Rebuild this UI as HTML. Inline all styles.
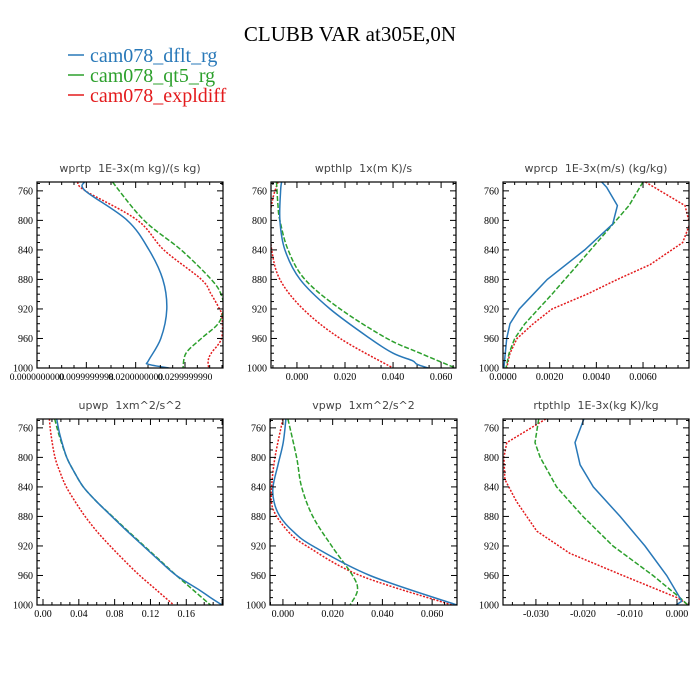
<!DOCTYPE html>
<html><head><meta charset="utf-8"><style>
body{margin:0;background:#fff;}
svg{display:block;}
</style></head><body>
<svg id="chart" width="700" height="700" viewBox="0 0 700 700" xmlns="http://www.w3.org/2000/svg">
<rect width="700" height="700" fill="#fff"/>
<text x="350" y="41" text-anchor="middle" font-family="Liberation Serif, serif" font-size="21">CLUBB VAR at305E,0N</text>
<g font-family="Liberation Serif, serif" font-size="20">
<g><line x1="68" y1="55" x2="84" y2="55" stroke="#2878b8" stroke-width="1.5"/><text x="90" y="62" fill="#2878b8">cam078_dflt_rg</text></g>
<g><line x1="68" y1="75" x2="84" y2="75" stroke="#2ca02c" stroke-width="1.5"/><text x="90" y="82" fill="#2ca02c">cam078_qt5_rg</text></g>
<g><line x1="68" y1="95" x2="84" y2="95" stroke="#e31a1c" stroke-width="1.5"/><text x="90" y="102" fill="#e31a1c">cam078_expldiff</text></g>
</g>
<g id="panels"></g>
</svg>
<script>
const yTicks=[760,800,840,880,920,960,1000];
// panel 1 wprtp
const p1_blue_p=[748,760,800,840,880,920,960,990,995,1000];
const p1_blue=[0.0096,0.0098,0.0183,0.0227,0.0255,0.0263,0.0251,0.0226,0.0226,0.0268];
const p1_green_p=[748,800,840,880,900,920,940,960,980,1000];
const p1_green=[0.0153,0.0217,0.0292,0.0353,0.0373,0.0378,0.0367,0.0333,0.0302,0.0296];
const p1_red_p=[748,760,800,840,880,900,920,930,960,980,990,1000];
const p1_red=[0.0082,0.0098,0.0204,0.0257,0.0333,0.0353,0.037,0.0375,0.0374,0.0353,0.0347,0.0348];
const p1_ticks=[0,0.01,0.02,0.03];
const p1_labels=["0.0000000000","0.0099999998","0.0200000000","0.0299999990"];
// panel 2 wpthlp
const p2_blue_p=[748,760,800,840,880,920,960,980,990,995,1000];
const p2_blue=[-0.0064,-0.0068,-0.0071,-0.005,0.0013,0.0138,0.0304,0.040,0.048,0.050,0.0546];
const p2_green_p=[748,780,800,840,880,920,960,980,1000];
const p2_green=[-0.0085,-0.0079,-0.0071,-0.0037,0.0033,0.018,0.0375,0.0513,0.066];
const p2_red_p=[748,770,800,840,880,920,960,1000];
const p2_red=[-0.0079,-0.010,-0.0113,-0.0105,-0.0071,0.0025,0.018,0.040];
const p2_ticks=[0,0.02,0.04,0.06];
const p2_labels=["0.000","0.020","0.040","0.060"];
// panel 3 wprcp
const p3_blue_p=[748,755,780,805,840,880,900,920,940,960,1000];
const p3_blue=[0.00423,0.00444,0.0049,0.0047,0.0035,0.0019,0.0013,0.0007,0.0003,0.00016,0.00004];
const p3_green_p=[748,780,820,860,900,940,960,980,1000];
const p3_green=[0.006,0.0054,0.0043,0.0032,0.0021,0.00094,0.0005,0.00026,0.00013];
const p3_red_p=[748,780,805,830,860,880,900,920,940,960,980,1000];
const p3_red=[0.0061,0.0078,0.0080,0.0077,0.0063,0.0049,0.0036,0.0021,0.0013,0.0006,0.0003,0.00016];
const p3_ticks=[0,0.002,0.004,0.006];
const p3_labels=["0.0000","0.0020","0.0040","0.0060"];
// panel 4 upwp
const p4_blue_p=[748,770,800,820,840,860,880,900,920,940,960,980,990,1000];
const p4_blue=[0.0153,0.019,0.0265,0.035,0.045,0.060,0.0768,0.094,0.112,0.130,0.149,0.175,0.187,0.200];
const p4_green_p=[748,770,800,820,840,860,880,900,920,940,960,980,1000];
const p4_green=[0.0131,0.018,0.0265,0.035,0.045,0.060,0.0775,0.095,0.113,0.131,0.149,0.168,0.187];
const p4_red_p=[748,770,800,820,840,860,880,900,920,940,960,980,1000];
const p4_red=[0.0071,0.009,0.0134,0.019,0.026,0.036,0.047,0.060,0.075,0.091,0.108,0.127,0.146];
const p4_ticks=[0,0.04,0.08,0.12,0.16];
const p4_labels=["0.00","0.04","0.08","0.12","0.16"];
// panel 5 vpwp
const p5_blue_p=[748,780,810,840,860,880,900,920,960,1000];
const p5_blue=[0.0012,0.0001,-0.002,-0.004,-0.0036,-0.0012,0.004,0.012,0.035,0.070];
const p5_green_p=[748,800,840,880,920,960,980,1000];
const p5_green=[0.002,0.0055,0.0075,0.012,0.0196,0.028,0.030,0.027];
const p5_red_p=[748,800,840,870,900,920,960,1000];
const p5_red=[0.0,-0.0032,-0.0045,-0.004,0.002,0.0095,0.031,0.068];
const p5_ticks=[0,0.02,0.04,0.06];
const p5_labels=["0.000","0.020","0.040","0.060"];
// panel 6 rtpthlp
const p6_blue_p=[748,780,810,840,880,920,960,990,995,1000];
const p6_blue=[-0.0198,-0.0217,-0.0206,-0.0178,-0.0121,-0.0068,-0.0022,0.0006,0.001,-0.0002];
const p6_green_p=[748,780,800,840,880,920,960,990,1000];
const p6_green=[-0.0294,-0.0302,-0.0291,-0.0256,-0.0200,-0.0136,-0.0051,0.0006,0.0023];
const p6_red_p=[748,780,800,830,860,900,930,960,990,1000];
const p6_red=[-0.0279,-0.0362,-0.0368,-0.0366,-0.0341,-0.0298,-0.0228,-0.0115,0.0,0.0025];
const p6_ticks=[-0.03,-0.02,-0.01,0];
const p6_labels=["-0.030","-0.020","-0.010","0.000"];

const NS="http://www.w3.org/2000/svg";
const root=document.getElementById('panels');
function mk(tag,attrs,parent){const e=document.createElementNS(NS,tag);for(const k in attrs)e.setAttribute(k,attrs[k]);parent.appendChild(e);return e;}
const panels=[
 {name:"wprtp",title:"wprtp  1E-3x(m kg)/(s kg)",x0:37,x1:223,top:true,smooth:true,xmin:0,xmax:0.0377,ticks:p1_ticks,labels:p1_labels,lfs:9.5,series:[[p1_red_p,p1_red,"red"],[p1_green_p,p1_green,"green"],[p1_blue_p,p1_blue,"blue"]]},
 {name:"wpthlp",title:"wpthlp  1x(m K)/s",x0:271,x1:456,top:true,smooth:true,xmin:-0.0108,xmax:0.0662,ticks:p2_ticks,labels:p2_labels,series:[[p2_red_p,p2_red,"red"],[p2_green_p,p2_green,"green"],[p2_blue_p,p2_blue,"blue"]]},
 {name:"wprcp",title:"wprcp  1E-3x(m/s) (kg/kg)",x0:503,x1:689,top:true,smooth:false,xmin:0,xmax:0.00797,ticks:p3_ticks,labels:p3_labels,series:[[p3_red_p,p3_red,"red"],[p3_green_p,p3_green,"green"],[p3_blue_p,p3_blue,"blue"]]},
 {name:"upwp",title:"upwp  1xm^2/s^2",x0:37,x1:223,top:false,smooth:true,xmin:-0.0067,xmax:0.201,ticks:p4_ticks,labels:p4_labels,series:[[p4_red_p,p4_red,"red"],[p4_green_p,p4_green,"green"],[p4_blue_p,p4_blue,"blue"]]},
 {name:"vpwp",title:"vpwp  1xm^2/s^2",x0:270,x1:457,top:false,smooth:true,xmin:-0.0052,xmax:0.070,ticks:p5_ticks,labels:p5_labels,series:[[p5_red_p,p5_red,"red"],[p5_green_p,p5_green,"green"],[p5_blue_p,p5_blue,"blue"]]},
 {name:"rtpthlp",title:"rtpthlp  1E-3x(kg K)/kg",x0:503,x1:689,top:false,smooth:false,xmin:-0.037,xmax:0.00255,ticks:p6_ticks,labels:p6_labels,series:[[p6_red_p,p6_red,"red"],[p6_green_p,p6_green,"green"],[p6_blue_p,p6_blue,"blue"]]}
];
const styles={blue:{c:"#2878b8",d:""},green:{c:"#2ca02c",d:"5,2"},red:{c:"#e31a1c",d:"2,1.5"}};
function pathD(pts,smooth){
 if(!smooth||pts.length<3) return pts.map((q,i)=>(i?'L':'M')+q[0].toFixed(1)+','+q[1].toFixed(1)).join('');
 let d='M'+pts[0][0].toFixed(1)+','+pts[0][1].toFixed(1);
 for(let i=0;i<pts.length-1;i++){
  const p0=pts[Math.max(0,i-1)],p1=pts[i],p2=pts[i+1],p3=pts[Math.min(pts.length-1,i+2)];
  const c1=[p1[0]+(p2[0]-p0[0])/6,p1[1]+(p2[1]-p0[1])/6];
  const c2=[p2[0]-(p3[0]-p1[0])/6,p2[1]-(p3[1]-p1[1])/6];
  d+='C'+c1[0].toFixed(1)+','+c1[1].toFixed(1)+' '+c2[0].toFixed(1)+','+c2[1].toFixed(1)+' '+p2[0].toFixed(1)+','+p2[1].toFixed(1);
 }
 return d;
}
panels.forEach(P=>{
 const fy=P.top?{t:182,b:368}:{t:419,b:605};
 const pmin=748, pmax=1000;
 const Y=p=>fy.t+(p-pmin)/(pmax-pmin)*(fy.b-fy.t);
 const X=v=>P.x0+(v-P.xmin)/(P.xmax-P.xmin)*(P.x1-P.x0);
 const g=mk('g',{},root);
 
 
 const t=mk('text',{x:(P.x0+P.x1)/2,y:fy.t-10,'text-anchor':'middle','font-family':'DejaVu Sans, sans-serif','font-size':11,fill:'#444'},g);
 t.textContent=P.title.replace(/  /g,'\u00a0\u00a0');
 
 
 const cp='clip-'+P.name;
 const cl=mk('clipPath',{id:cp},g);mk('rect',{x:P.x0,y:fy.t,width:P.x1-P.x0,height:fy.b-fy.t},cl);
 P.series.forEach(s=>{
  const st=styles[s[2]];
  const pts=s[0].map((p,i)=>[X(s[1][i]),Y(p)]);
  const path=mk('path',{d:pathD(pts,P.smooth),fill:'none',stroke:st.c,'stroke-width':1.5,'stroke-dasharray':st.d,'clip-path':'url(#'+cp+')'},g);
  
  
 });
 const fr=mk('rect',{x:P.x0,y:fy.t,width:P.x1-P.x0,height:fy.b-fy.t,fill:'none',stroke:'#000','stroke-width':1.2},g);
 
 
 for(let p=750;p<=1000;p+=10){
  const maj=(p-760)%40===0&&p>=760;
  const L=maj?6:3, y=Y(p);
  mk('line',{x1:P.x0,y1:y,x2:P.x0+L,y2:y,stroke:'#000','stroke-width':1},g);
  mk('line',{x1:P.x1,y1:y,x2:P.x1-L,y2:y,stroke:'#000','stroke-width':1},g);
 }
 yTicks.forEach(p=>{
  const tx=mk('text',{x:P.x0-4,y:Y(p)+3.5,'text-anchor':'end','font-family':'Liberation Serif, serif','font-size':10},g);
  tx.textContent=p;
  
  
 });
 const step=P.ticks[1]-P.ticks[0];
 for(let k=-8;k<=P.ticks.length*4+8;k++){
  const v=P.ticks[0]+k*step/4;
  if(v<P.xmin-1e-9||v>P.xmax+1e-9)continue;
  const L=(k%4===0)?6:3,x=X(v);
  mk('line',{x1:x,y1:fy.b,x2:x,y2:fy.b-L,stroke:'#000','stroke-width':1},g);
  mk('line',{x1:x,y1:fy.t,x2:x,y2:fy.t+L,stroke:'#000','stroke-width':1},g);
 }
 P.ticks.forEach((v,i)=>{
  const tx=mk('text',{x:X(v),y:fy.b+12,'text-anchor':'middle','font-family':'Liberation Serif, serif','font-size':P.lfs||10},g);
  tx.textContent=P.labels[i];
  
  
 });
});
</script>
</body></html>
